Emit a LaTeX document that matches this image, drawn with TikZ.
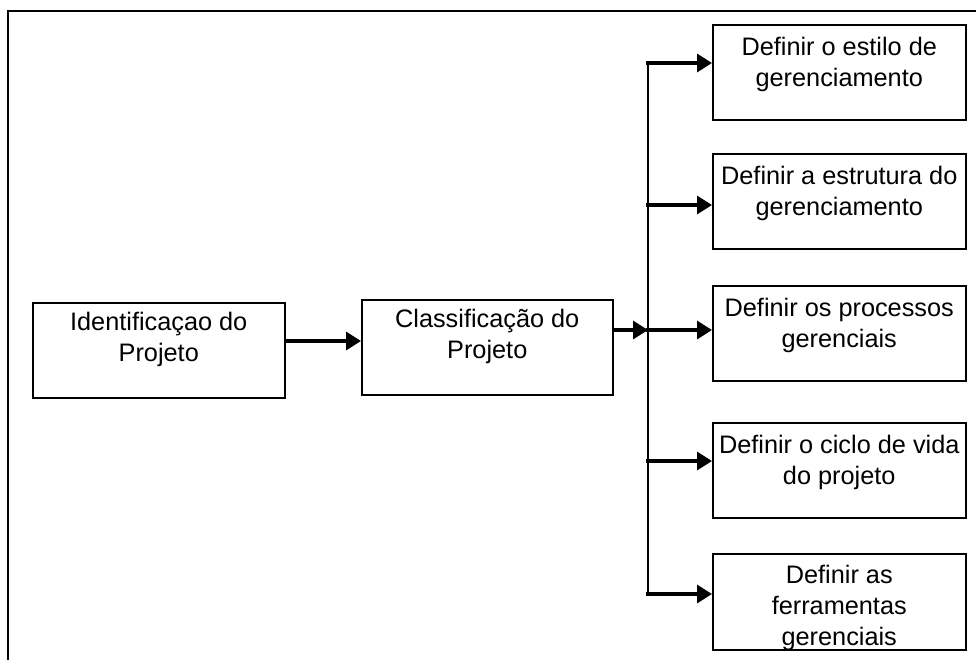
\documentclass[tikz,border=0pt]{standalone}
\usepackage{fontspec}
\setmainfont{Liberation Sans}
\usetikzlibrary{arrows.meta}
\begin{document}
\begin{tikzpicture}[x=1pt,y=-1pt,
  box/.style={draw=black,line width=1.5pt,rectangle,inner sep=0pt,minimum height=95pt,anchor=north west},
  txt/.style={align=center,inner sep=0pt,anchor=north,font=\fontsize{25.3}{31}\selectfont},
  arr/.style={line width=3.3pt,-{Triangle[length=15pt,width=18pt]}},
  frame/.style={line width=2.2pt,line cap=rect}]
\useasboundingbox (0,0) rectangle (976,659);
\draw[frame] (8,659) -- (8,11) -- (976,11);
% left boxes
\node[box,minimum width=252pt] (b1) at (32,302) {};
\node[txt] (t1) at ([yshift=-9.6pt]b1.north) {Identificaçao do\\Projeto};
\node[box,minimum width=251pt] (b2) at (361,299) {};
\node[txt] (t2) at ([yshift=-9.6pt]b2.north) {Classificação do\\Projeto};
% right boxes
\node[box,minimum width=253pt] (bA) at (712,24) {};
\node[txt] (tA) at ([yshift=-12.6pt]bA.north) {Definir o estilo de\\gerenciamento};
\node[box,minimum width=253pt] (bB) at (712,153) {};
\node[txt] (tB) at ([yshift=-12.6pt]bB.north) {Definir a estrutura do\\gerenciamento};
\node[box,minimum width=253pt] (bC) at (712,285) {};
\node[txt] (tC) at ([yshift=-12.6pt]bC.north) {Definir os processos\\gerenciais};
\node[box,minimum width=253pt] (bD) at (712,422) {};
\node[txt] (tD) at ([yshift=-12.6pt]bD.north) {Definir o ciclo de vida\\do projeto};
\node[box,minimum width=253pt,minimum height=96pt] (bE) at (712,553) {};
\node[txt] (tE) at ([yshift=-11.6pt]bE.north) {Definir as\\ferramentas\\gerenciais};
% junction coordinates
\coordinate (j1) at (320,341);
\coordinate (vt) at (648,63);
\coordinate (vb) at (648,594);
\coordinate (jA) at (648,63);
\coordinate (jB) at (648,205);
\coordinate (jC) at (648,330);
\coordinate (jD) at (648,461);
\coordinate (jE) at (648,594);
% connectors
\draw[arr] (b1.east |- j1) -- (b2.west |- j1);
\draw[arr] (b2.east |- jC) -- (jC);
\draw[line width=2pt] (vt) -- (vb);
\draw[arr] ([xshift=-2pt]jA) -- (jA -| bA.west);
\draw[arr] ([xshift=-2pt]jB) -- (jB -| bB.west);
\draw[arr] ([xshift=-2pt]jC) -- (jC -| bC.west);
\draw[arr] ([xshift=-2pt]jD) -- (jD -| bD.west);
\draw[arr] ([xshift=-2pt]jE) -- (jE -| bE.west);
\end{tikzpicture}
\end{document}
